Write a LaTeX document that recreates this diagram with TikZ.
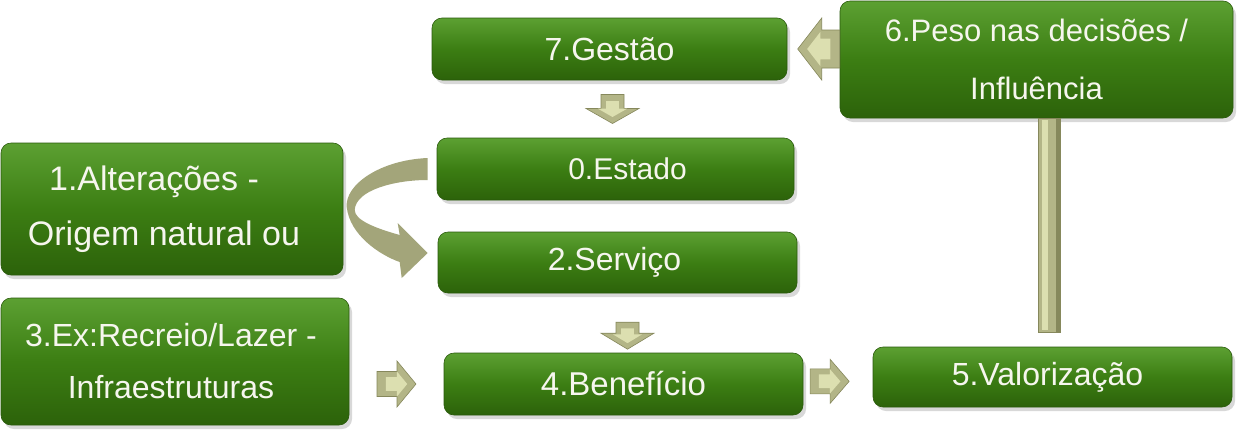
\documentclass[tikz,border=0pt]{standalone}
\usepackage{fontspec}
\setmainfont{Liberation Sans}
\usetikzlibrary{calc,shadows}
\definecolor{boxtop}{HTML}{5CA032}
\definecolor{boxmid}{HTML}{3C7E13}
\definecolor{boxbot}{HTML}{2C620A}
\definecolor{boxedge}{HTML}{2A5A0C}
\definecolor{khaki}{HTML}{B3B587}
\definecolor{khakiL}{HTML}{DCDFB0}
\definecolor{khakiD}{HTML}{86885C}
\definecolor{curvek}{HTML}{A3A57A}
\definecolor{txt}{HTML}{F6F6EE}
\tikzset{
  greenbox/.style={rectangle, rounded corners=10pt, draw=boxedge, line width=0.6pt,
    top color=boxtop, bottom color=boxbot, middle color=boxmid,
    drop shadow={opacity=0.3, shadow xshift=3pt, shadow yshift=-4pt},
    text=txt, align=center, inner sep=0pt},
  pics/barrow/.style args={#1/#2/#3/#4}{code={
    \filldraw[fill=khaki, draw=khakiD, line width=0.6pt]
      (-#1/2,-#3) -- (#1/2-#2,-#3) -- (#1/2-#2,-#4) -- (#1/2,0) -- (#1/2-#2,#4)
      -- (#1/2-#2,#3) -- (-#1/2,#3) -- cycle;
    \fill[khakiL, scale=0.55]
      (-#1/2,-#3) -- (#1/2-#2,-#3) -- (#1/2-#2,-#4) -- (#1/2,0) -- (#1/2-#2,#4)
      -- (#1/2-#2,#3) -- (-#1/2,#3) -- cycle;
  }}
}
\begin{document}
\begin{tikzpicture}[x=1pt,y=-1pt]
\useasboundingbox[fill=white] (0,0) rectangle (1242,432);

\node[greenbox, minimum width=355, minimum height=62, font=\fontsize{32}{38}\selectfont]
  (n7) at (609.5,49) {7.Gestão};
\node[greenbox, minimum width=393, minimum height=117, font=\fontsize{31}{58}\selectfont]
  (n6) at (1036.5,59.5) {6.Peso nas decisões /\\Influência};
\node[greenbox, minimum width=357, minimum height=62, font=\fontsize{30}{34}\selectfont]
  (n0) at (615.5,169) {\hspace*{24pt}0.Estado};
\node[greenbox, minimum width=342, minimum height=132, font=\fontsize{34}{55}\selectfont]
  (n1) at (172,209) {1.Alterações -\hspace*{36pt}\\Origem natural ou\hspace*{16pt}};
\node[greenbox, minimum width=359, minimum height=61, font=\fontsize{32}{38}\selectfont]
  (n2) at (617.5,262.5) {2.Serviço\hspace*{6pt}};
\node[greenbox, minimum width=348, minimum height=127, font=\fontsize{32}{52}\selectfont]
  (n3) at (175,361.5) {3.Ex:Recreio/Lazer -\hspace*{8pt}\\Infraestruturas\hspace*{8pt}};
\node[greenbox, minimum width=359, minimum height=62, font=\fontsize{33}{38}\selectfont]
  (n4) at (623.5,384) {4.Benefício};
\node[greenbox, minimum width=359, minimum height=60, font=\fontsize{32}{38}\selectfont]
  (n5) at (1052.5,377) {5.Valorização\hspace*{10pt}};

% block arrows
\pic[rotate=-90] (a70) at ($(n7.south)!0.5!(n0.north)$) {barrow={29/15/11.5/26.5}};
\pic[rotate=-90] (a24) at ($(n4.north)+(4,-17)$) {barrow={27/16/11.5/26.5}};
\pic (a34) at ($(n3.east |- n4.west)!0.5!(n4.west)$) {barrow={39/19/12.5/23}};
\pic (a45) at ($(n4.east)!0.38!(n5.west)$) {barrow={39/19/12.5/22}};
\pic[rotate=180] (a67) at ($(n6.west |- n7.east)+(-21,0)$) {barrow={42/24/19/31}};

% vertical bar from 6 to 5
\coordinate (b1) at ($(n6.south)+(1.5,0)$);
\coordinate (b2) at ($(b1 |- n5.north)+(22,-14)$);
\filldraw[fill=khaki, draw=khakiD, line width=0.6pt] (b1) rectangle (b2);
\fill[khakiL] ($(b1)+(4,2)$) rectangle ($(b1 |- b2)+(10,-3)$);
\fill[khakiD] ($(b2 |- b1)+(-4,0)$) rectangle (b2);

% curved arrow from 0 to 2
\begin{scope}[shift={(n0.west)}]
\coordinate (c0) at (-9,-11);
\fill[curvek] (c0) .. controls (-57,-9) and (-92,16) .. (-90,38)
  .. controls (-87,66) and (-57,86) .. (-37,93)
  -- (-35,109) -- (-9,84) -- (-39,54) -- (-37,66)
  .. controls (-62,59) and (-82,51) .. (-82,41)
  .. controls (-81,21) and (-42,11) .. (-9,11) -- cycle;
\end{scope}
\end{tikzpicture}
\end{document}
